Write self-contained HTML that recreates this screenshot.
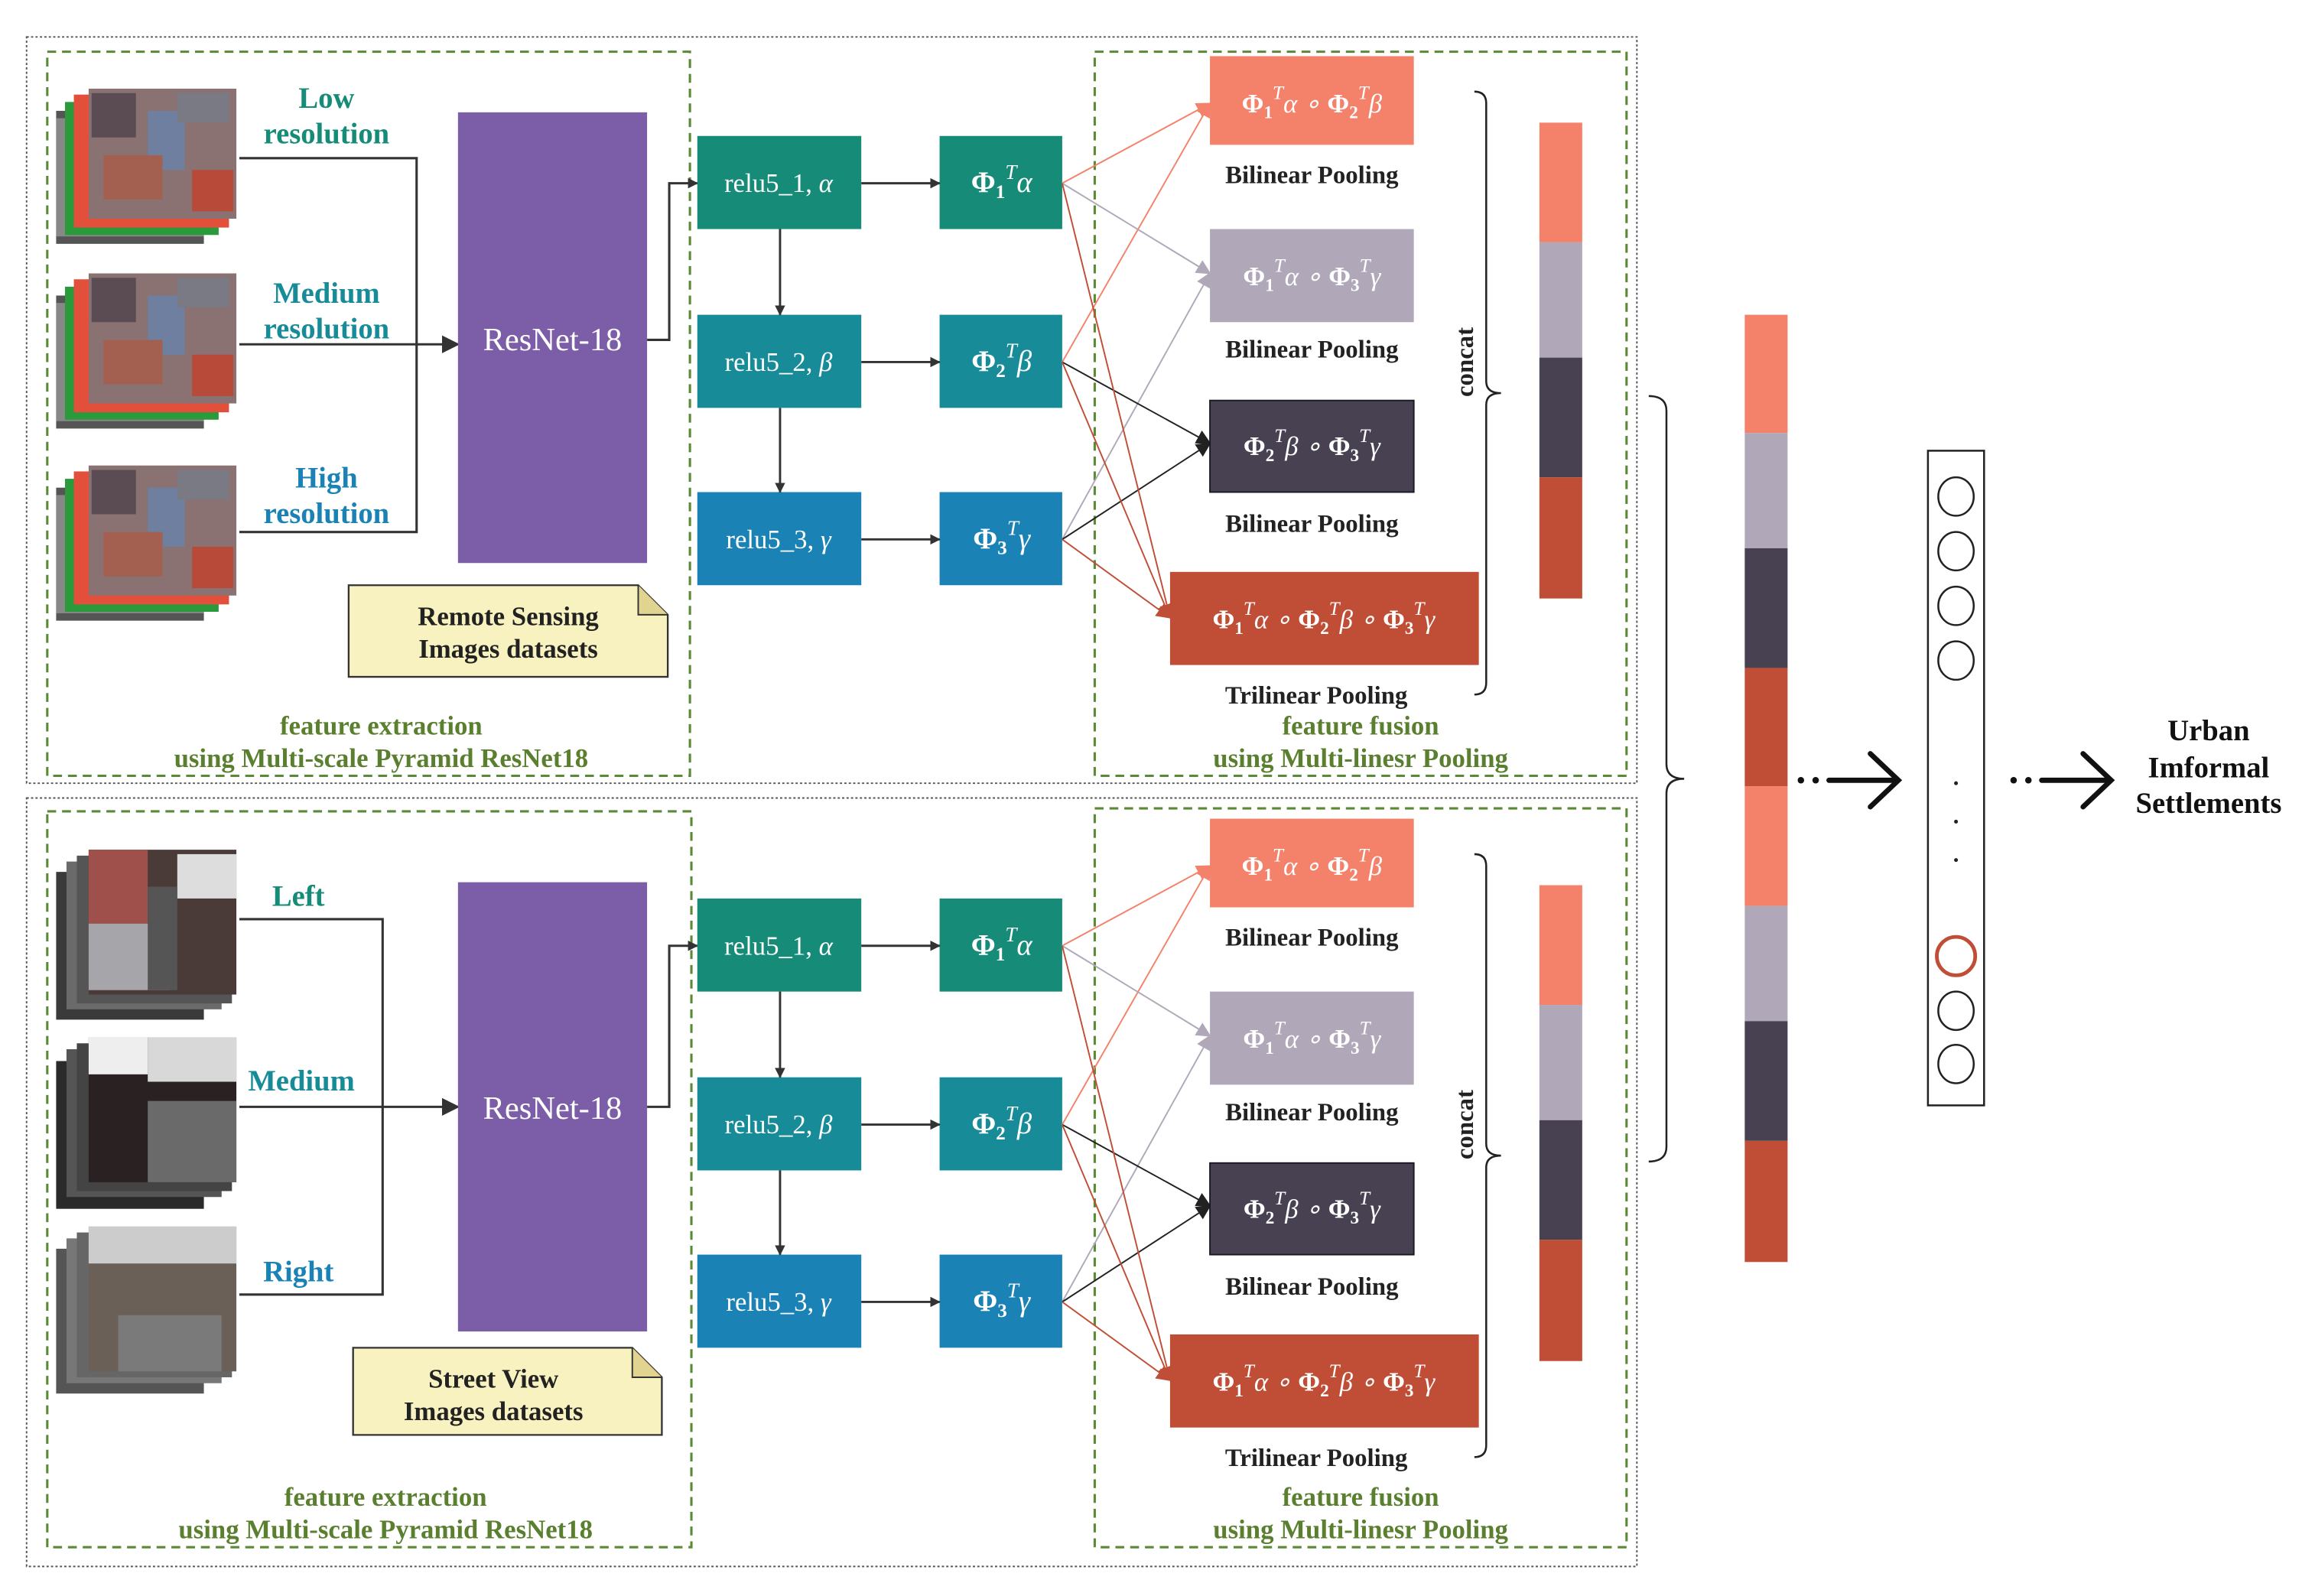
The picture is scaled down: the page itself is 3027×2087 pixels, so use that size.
<!DOCTYPE html>
<html><head><meta charset="utf-8"><style>
html,body{margin:0;padding:0;background:#fff}
svg{display:block}
text{font-family:"Liberation Serif",serif;font-weight:bold}
</style></head><body>
<svg width="3027" height="2087" viewBox="0 0 1567 1080" preserveAspectRatio="none" xmlns="http://www.w3.org/2000/svg">
<defs>
<marker id="a" viewBox="0 0 10 10" refX="9" refY="5" markerWidth="7" markerHeight="7" orient="auto" markerUnits="userSpaceOnUse"><path d="M0,0L10,5L0,10z" fill="#333"/></marker>
<marker id="ab" viewBox="0 0 10 10" refX="9" refY="5" markerWidth="12" markerHeight="12" orient="auto" markerUnits="userSpaceOnUse"><path d="M0,0L10,5L0,10z" fill="#333"/></marker>
<marker id="as" viewBox="0 0 10 10" refX="9" refY="5" markerWidth="10" markerHeight="10" orient="auto" markerUnits="userSpaceOnUse"><path d="M0,0L10,5L0,10z" fill="#f4826a"/></marker>
<marker id="ag" viewBox="0 0 10 10" refX="9" refY="5" markerWidth="10" markerHeight="10" orient="auto" markerUnits="userSpaceOnUse"><path d="M0,0L10,5L0,10z" fill="#b0a8b8"/></marker>
<marker id="ak" viewBox="0 0 10 10" refX="9" refY="5" markerWidth="10" markerHeight="10" orient="auto" markerUnits="userSpaceOnUse"><path d="M0,0L10,5L0,10z" fill="#222"/></marker>
<marker id="ar" viewBox="0 0 10 10" refX="9" refY="5" markerWidth="10" markerHeight="10" orient="auto" markerUnits="userSpaceOnUse"><path d="M0,0L10,5L0,10z" fill="#c04e36"/></marker>
<g id="sat">
<rect x="38" y="0" width="100" height="90" fill="#555"/>
<rect x="38" y="5" width="100" height="80" fill="#888"/>
<rect x="44" y="-6" width="104" height="90" fill="#2a9a3a"/>
<rect x="50" y="-11" width="105" height="90" fill="#e2503c"/>
<rect x="60" y="-15" width="100" height="88" fill="#8a7272"/>
<rect x="62" y="-12" width="30" height="30" fill="#5a4c52"/>
<rect x="100" y="0" width="25" height="40" fill="#6e7fa0"/>
<rect x="70" y="30" width="40" height="30" fill="#a36050"/>
<rect x="130" y="40" width="28" height="28" fill="#b84a3a"/>
<rect x="120" y="-12" width="35" height="20" fill="#7a7a84"/>
</g>
<g id="row1">
<rect x="472" y="92" width="111" height="63" fill="#168c78"/>
<rect x="472" y="213" width="111" height="63" fill="#178c98"/>
<rect x="472" y="333" width="111" height="63" fill="#1a82b5"/>
<rect x="636" y="92" width="83" height="63" fill="#168c78"/>
<rect x="636" y="213" width="83" height="63" fill="#178c98"/>
<rect x="636" y="333" width="83" height="63" fill="#1a82b5"/>
<g fill="#fff" font-size="18" text-anchor="middle">
<text x="527" y="130" style="font-weight:normal">relu5_1, <tspan font-style="italic">α</tspan></text>
<text x="527" y="251" style="font-weight:normal">relu5_2, <tspan font-style="italic">β</tspan></text>
<text x="527" y="371" style="font-weight:normal">relu5_3, <tspan font-style="italic">γ</tspan></text>
</g>
<g fill="#fff" font-size="20" text-anchor="middle">
<text x="678" y="130">Φ<tspan font-size="13" dy="4">1</tspan><tspan font-size="14" dy="-13" font-style="italic" style="font-weight:normal">T</tspan><tspan dy="9" font-style="italic" style="font-weight:normal">α</tspan></text>
<text x="678" y="251">Φ<tspan font-size="13" dy="4">2</tspan><tspan font-size="14" dy="-13" font-style="italic" style="font-weight:normal">T</tspan><tspan dy="9" font-style="italic" style="font-weight:normal">β</tspan></text>
<text x="678" y="371">Φ<tspan font-size="13" dy="4">3</tspan><tspan font-size="14" dy="-13" font-style="italic" style="font-weight:normal">T</tspan><tspan dy="9" font-style="italic" style="font-weight:normal">γ</tspan></text>
</g>
<g stroke="#333" stroke-width="1.5" fill="none">
<line x1="583" y1="124" x2="636" y2="124" marker-end="url(#a)"/>
<line x1="583" y1="245" x2="636" y2="245" marker-end="url(#a)"/>
<line x1="583" y1="365" x2="636" y2="365" marker-end="url(#a)"/>
<line x1="528" y1="155" x2="528" y2="213" marker-end="url(#a)"/>
<line x1="528" y1="276" x2="528" y2="333" marker-end="url(#a)"/>
</g>
<g stroke-width="1" fill="none">
<line x1="719" y1="124" x2="819" y2="70" stroke="#f4826a" marker-end="url(#as)"/>
<line x1="719" y1="245" x2="819" y2="70" stroke="#f4826a" marker-end="url(#as)"/>
<line x1="719" y1="124" x2="819" y2="185" stroke="#b0a8b8" marker-end="url(#ag)"/>
<line x1="719" y1="365" x2="819" y2="185" stroke="#b0a8b8" marker-end="url(#ag)"/>
<line x1="719" y1="245" x2="819" y2="300" stroke="#222" marker-end="url(#ak)"/>
<line x1="719" y1="365" x2="819" y2="300" stroke="#222" marker-end="url(#ak)"/>
<line x1="719" y1="124" x2="792" y2="418" stroke="#c04e36" marker-end="url(#ar)"/>
<line x1="719" y1="245" x2="792" y2="418" stroke="#c04e36" marker-end="url(#ar)"/>
<line x1="719" y1="365" x2="792" y2="418" stroke="#c04e36" marker-end="url(#ar)"/>
</g>
<rect x="819" y="38" width="138" height="60" fill="#f4826a"/>
<rect x="819" y="155" width="138" height="63" fill="#b0a8b8"/>
<rect x="819" y="271" width="138" height="62" fill="#474152" stroke="#1a1a22" stroke-width="1"/>
<rect x="792" y="387" width="209" height="63" fill="#c04e36"/>
<g fill="#fff" font-size="18" text-anchor="middle">
<text x="888" y="76">Φ<tspan font-size="12" dy="4">1</tspan><tspan font-size="13" dy="-13" font-style="italic" style="font-weight:normal">T</tspan><tspan dy="9" font-style="italic" style="font-weight:normal">α ∘ </tspan>Φ<tspan font-size="12" dy="4">2</tspan><tspan font-size="13" dy="-13" font-style="italic" style="font-weight:normal">T</tspan><tspan dy="9" font-style="italic" style="font-weight:normal">β</tspan></text>
<text x="888" y="193">Φ<tspan font-size="12" dy="4">1</tspan><tspan font-size="13" dy="-13" font-style="italic" style="font-weight:normal">T</tspan><tspan dy="9" font-style="italic" style="font-weight:normal">α ∘ </tspan>Φ<tspan font-size="12" dy="4">3</tspan><tspan font-size="13" dy="-13" font-style="italic" style="font-weight:normal">T</tspan><tspan dy="9" font-style="italic" style="font-weight:normal">γ</tspan></text>
<text x="888" y="308">Φ<tspan font-size="12" dy="4">2</tspan><tspan font-size="13" dy="-13" font-style="italic" style="font-weight:normal">T</tspan><tspan dy="9" font-style="italic" style="font-weight:normal">β ∘ </tspan>Φ<tspan font-size="12" dy="4">3</tspan><tspan font-size="13" dy="-13" font-style="italic" style="font-weight:normal">T</tspan><tspan dy="9" font-style="italic" style="font-weight:normal">γ</tspan></text>
<text x="896" y="425">Φ<tspan font-size="12" dy="4">1</tspan><tspan font-size="13" dy="-13" font-style="italic" style="font-weight:normal">T</tspan><tspan dy="9" font-style="italic" style="font-weight:normal">α ∘ </tspan>Φ<tspan font-size="12" dy="4">2</tspan><tspan font-size="13" dy="-13" font-style="italic" style="font-weight:normal">T</tspan><tspan dy="9" font-style="italic" style="font-weight:normal">β ∘ </tspan>Φ<tspan font-size="12" dy="4">3</tspan><tspan font-size="13" dy="-13" font-style="italic" style="font-weight:normal">T</tspan><tspan dy="9" font-style="italic" style="font-weight:normal">γ</tspan></text>
</g>
<g fill="#222" font-size="17" text-anchor="middle">
<text x="888" y="124">Bilinear Pooling</text>
<text x="888" y="242">Bilinear Pooling</text>
<text x="888" y="360">Bilinear Pooling</text>
<text x="891" y="476">Trilinear Pooling</text>
</g>
<path d="M998,62 q8,0 8,8 v188 q0,8 10,8 q-10,0 -10,8 v188 q0,8 -8,8" fill="none" stroke="#222" stroke-width="1.3"/>
<text x="0" y="0" font-size="17" fill="#222" text-anchor="middle" transform="translate(997,245) rotate(-90)">concat</text>
<rect x="1042" y="83" width="29" height="81" fill="#f4826a"/>
<rect x="1042" y="164" width="29" height="78" fill="#b0a8b8"/>
<rect x="1042" y="242" width="29" height="81" fill="#474152"/>
<rect x="1042" y="323" width="29" height="82" fill="#c04e36"/>
</g>
</defs>

<rect x="18" y="25" width="1090" height="505" fill="none" stroke="#555" stroke-width="1" stroke-dasharray="1.5,1.5"/>
<rect x="18" y="540" width="1090" height="520" fill="none" stroke="#555" stroke-width="1" stroke-dasharray="1.5,1.5"/>
<g fill="none" stroke="#5a8a35" stroke-width="1.6" stroke-dasharray="6,4">
<rect x="32" y="35" width="435" height="490"/>
<rect x="741" y="35" width="360" height="490"/>
<rect x="32" y="549" width="436" height="498"/>
<rect x="741" y="547" width="360" height="500"/>
</g>

<use href="#sat" transform="translate(0,75)"/>
<use href="#sat" transform="translate(0,200)"/>
<use href="#sat" transform="translate(0,330)"/>
<g font-size="20" text-anchor="middle">
<text x="221" y="73" fill="#168c78">Low</text>
<text x="221" y="97" fill="#168c78">resolution</text>
<text x="221" y="205" fill="#178c98">Medium</text>
<text x="221" y="229" fill="#178c98">resolution</text>
<text x="221" y="330" fill="#1a82b5">High</text>
<text x="221" y="354" fill="#1a82b5">resolution</text>
</g>
<g stroke="#333" stroke-width="1.6" fill="none">
<polyline points="162,107 282,107 282,360 162,360"/>
<line x1="162" y1="233" x2="310" y2="233" marker-end="url(#ab)"/>
<polyline points="438,230 453,230 453,124 472,124" marker-end="url(#a)"/>
</g>
<rect x="310" y="76" width="128" height="305" fill="#7b5ea7"/>
<text x="374" y="237" fill="#fff" font-size="22" text-anchor="middle" style="font-weight:normal">ResNet-18</text>
<path d="M236,396 H432 L452,416 V458 H236 Z" fill="#f8f2c0" stroke="#333" stroke-width="1.2"/>
<path d="M432,396 V416 H452" fill="#e0d490" stroke="#333" stroke-width="1"/>
<g font-size="18" fill="#222" text-anchor="middle">
<text x="344" y="423">Remote Sensing</text>
<text x="344" y="445">Images datasets</text>
</g>
<g font-size="18" fill="#5a7f2f" text-anchor="middle">
<text x="258" y="497">feature extraction</text>
<text x="258" y="519">using Multi-scale Pyramid ResNet18</text>
<text x="921" y="497">feature fusion</text>
<text x="921" y="519">using Multi-linesr Pooling</text>
</g>
<use href="#row1"/>

<g>
<rect x="38" y="590" width="100" height="100" fill="#3a3a3a"/><rect x="45" y="583" width="105" height="100" fill="#6a6a6a"/><rect x="52" y="579" width="105" height="100" fill="#555"/>
<rect x="60" y="575" width="100" height="98" fill="#4a3a38"/><rect x="60" y="575" width="40" height="50" fill="#a0504a"/><rect x="120" y="578" width="40" height="30" fill="#ddd"/><rect x="60" y="625" width="55" height="45" fill="#a6a6aa"/><rect x="100" y="600" width="20" height="70" fill="#555"/>
<rect x="38" y="718" width="100" height="100" fill="#2a2a2a"/><rect x="45" y="710" width="105" height="100" fill="#555"/><rect x="52" y="706" width="105" height="100" fill="#444"/>
<rect x="60" y="702" width="100" height="98" fill="#2a2222"/><rect x="60" y="702" width="40" height="25" fill="#eee"/><rect x="100" y="702" width="60" height="30" fill="#d8d8d8"/><rect x="100" y="745" width="60" height="55" fill="#6a6a6a"/>
<rect x="38" y="845" width="100" height="98" fill="#555"/><rect x="45" y="838" width="105" height="98" fill="#777"/><rect x="52" y="834" width="105" height="98" fill="#666"/>
<rect x="60" y="830" width="100" height="98" fill="#6a6058"/><rect x="60" y="830" width="100" height="25" fill="#ccc"/><rect x="80" y="890" width="70" height="38" fill="#7a7a7a"/>
</g>
<g font-size="20" text-anchor="middle">
<text x="202" y="613" fill="#168c78">Left</text>
<text x="204" y="738" fill="#178c98">Medium</text>
<text x="202" y="867" fill="#1a82b5">Right</text>
</g>
<g stroke="#333" stroke-width="1.6" fill="none">
<polyline points="162,622 259,622 259,876 162,876"/>
<line x1="162" y1="749" x2="310" y2="749" marker-end="url(#ab)"/>
<polyline points="438,749 453,749 453,640 472,640" marker-end="url(#a)"/>
</g>
<rect x="310" y="597" width="128" height="304" fill="#7b5ea7"/>
<text x="374" y="757" fill="#fff" font-size="22" text-anchor="middle" style="font-weight:normal">ResNet-18</text>
<path d="M239,912 H428 L448,932 V971 H239 Z" fill="#f8f2c0" stroke="#333" stroke-width="1.2"/>
<path d="M428,912 V932 H448" fill="#e0d490" stroke="#333" stroke-width="1"/>
<g font-size="18" fill="#222" text-anchor="middle">
<text x="334" y="939">Street View</text>
<text x="334" y="961">Images datasets</text>
</g>
<g font-size="18" fill="#5a7f2f" text-anchor="middle">
<text x="261" y="1019">feature extraction</text>
<text x="261" y="1041">using Multi-scale Pyramid ResNet18</text>
<text x="921" y="1019">feature fusion</text>
<text x="921" y="1041">using Multi-linesr Pooling</text>
</g>
<use href="#row1" transform="translate(0,516)"/>

<path d="M1116,268 q12,0 12,10 v239 q0,10 12,10 q-12,0 -12,10 v239 q0,10 -12,10" fill="none" stroke="#222" stroke-width="1.3"/>
<rect x="1181" y="213" width="29" height="80" fill="#f4826a"/>
<rect x="1181" y="293" width="29" height="78" fill="#b0a8b8"/>
<rect x="1181" y="371" width="29" height="81" fill="#474152"/>
<rect x="1181" y="452" width="29" height="80" fill="#c04e36"/>
<rect x="1181" y="532" width="29" height="81" fill="#f4826a"/>
<rect x="1181" y="613" width="29" height="78" fill="#b0a8b8"/>
<rect x="1181" y="691" width="29" height="81" fill="#474152"/>
<rect x="1181" y="772" width="29" height="82" fill="#c04e36"/>

<g fill="#111"><circle cx="1219" cy="528" r="2.2"/><circle cx="1229" cy="528" r="2.2"/><circle cx="1363" cy="528" r="2.2"/><circle cx="1373" cy="528" r="2.2"/></g>
<g stroke="#111" stroke-width="3.5" fill="none" stroke-linecap="round">
<line x1="1238" y1="528" x2="1284" y2="528"/><polyline points="1266,510 1285,528 1266,546"/>
<line x1="1382" y1="528" x2="1428" y2="528"/><polyline points="1410,510 1429,528 1410,546"/>
</g>
<rect x="1305" y="305" width="38" height="443" fill="#fff" stroke="#222" stroke-width="1.3"/>
<g fill="none" stroke="#222" stroke-width="1.3">
<ellipse cx="1324" cy="336" rx="12" ry="13"/><ellipse cx="1324" cy="373" rx="12" ry="13"/><ellipse cx="1324" cy="410" rx="12" ry="13"/><ellipse cx="1324" cy="447" rx="12" ry="13"/>
<ellipse cx="1324" cy="684" rx="12" ry="13"/><ellipse cx="1324" cy="720" rx="12" ry="13"/>
</g>
<ellipse cx="1324" cy="647" rx="13" ry="13" fill="none" stroke="#c04e36" stroke-width="2.5"/>
<g fill="#222"><circle cx="1324" cy="530" r="1.3"/><circle cx="1324" cy="556" r="1.3"/><circle cx="1324" cy="582" r="1.3"/></g>
<g font-size="20" fill="#111" text-anchor="middle">
<text x="1495" y="501">Urban</text>
<text x="1495" y="526">Imformal</text>
<text x="1495" y="550">Settlements</text>
</g>
</svg>
</body></html>
